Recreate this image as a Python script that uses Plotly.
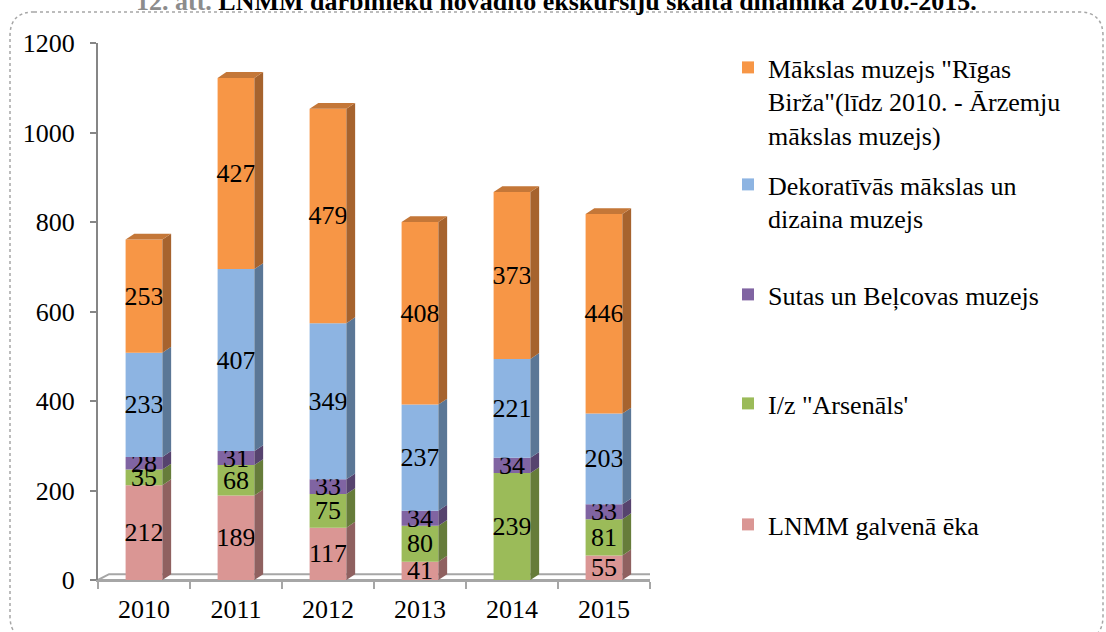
import plotly.graph_objects as go

years = ["2010", "2011", "2012", "2013", "2014", "2015"]
lnmm = [212, 189, 117, 41, 0, 55]
arsenals = [35, 68, 75, 80, 239, 81]
sutas = [28, 31, 33, 34, 34, 33]
dekor = [233, 407, 349, 237, 221, 203]
maksla = [253, 427, 479, 408, 373, 446]

names = [
    "LNMM galvenā ēka",
    "I/z \"Arsenāls'",
    "Sutas un Beļcovas muzejs",
    "Dekoratīvās mākslas un<br>dizaina muzejs",
    "Mākslas muzejs \"Rīgas<br>Birža\"(līdz 2010. - Ārzemju<br>mākslas muzejs)",
]
values = [lnmm, arsenals, sutas, dekor, maksla]
front_colors = ["#DA9694", "#9BBB59", "#8064A2", "#8DB4E2", "#F79646"]
side_colors = ["#8F6160", "#667C3A", "#56436E", "#5B7796", "#A6632E"]
top_color = "#C47738"

FONT = "Liberation Serif, Times New Roman, serif"
W = 1106
H = 632
ML, MR, MT, MB = 98, 456, 43, 52
PW = W - ML - MR
PH = H - MT - MB

BAR_W = 0.4
DX = 0.095   # depth offset in category units
DY = 13      # depth offset in value units


def px_x(px):
    return (px - ML) / PW


def px_y(py):
    return (H - MB - py) / PH


xs = list(range(len(years)))
fig = go.Figure()

legend_tops = [501, 380, 271, 161, 44]
legend_ids = ["legend5", "legend4", "legend3", "legend2", "legend"]

bases = [0] * len(years)
for k, (nm, vals, fc, sc) in enumerate(zip(names, values, front_colors, side_colors)):
    fig.add_trace(go.Bar(
        x=xs, y=vals, base=bases[:], width=BAR_W, name=nm,
        marker=dict(color=fc, line=dict(width=0)),
        text=[str(v) if v else "" for v in vals],
        textposition="inside", insidetextanchor="middle", textangle=0,
        textfont=dict(family=FONT, size=26, color="black"),
        legend=legend_ids[k], hoverinfo="skip",
    ))
    sx, sy = [], []
    for i, v in enumerate(vals):
        if v <= 0:
            continue
        b = bases[i]
        t = b + v
        r = i + BAR_W / 2
        sx += [r, r + DX, r + DX, r, r, None]
        sy += [b, b + DY, t + DY, t, b, None]
    fig.add_trace(go.Scatter(
        x=sx, y=sy, mode="lines", fill="toself", fillcolor=sc,
        line=dict(width=0, color=sc), showlegend=False, hoverinfo="skip",
    ))
    bases = [bases[i] + vals[i] for i in range(len(years))]

# top faces of stacks
tx, ty = [], []
for i, tot in enumerate(bases):
    l = i - BAR_W / 2
    r = i + BAR_W / 2
    tx += [l, l + DX, r + DX, r, l, None]
    ty += [tot, tot + DY, tot + DY, tot, tot, None]
fig.add_trace(go.Scatter(
    x=tx, y=ty, mode="lines", fill="toself", fillcolor=top_color,
    line=dict(width=0, color=top_color), showlegend=False, hoverinfo="skip",
))

# floor
FDX = 0.12
FDY = 13
fig.add_shape(type="path", xref="x", yref="y", layer="below",
              path=f"M -0.5,0 L 5.5,0 L {5.5 + FDX},{FDY} L {-0.5 + FDX},{FDY} Z",
              line=dict(color="#A6A6A6", width=2), fillcolor="rgba(0,0,0,0)")

# dotted rounded border
x0, x1 = px_x(10), px_x(1103)
y0, y1 = px_y(640), px_y(12)
rx = 24 / PW
ry = 24 / PH
border = (f"M {x0 + rx},{y1} L {x1 - rx},{y1} Q {x1},{y1} {x1},{y1 - ry} "
          f"L {x1},{y0 + ry} Q {x1},{y0} {x1 - rx},{y0} L {x0 + rx},{y0} "
          f"Q {x0},{y0} {x0},{y0 + ry} L {x0},{y1 - ry} Q {x0},{y1} {x0 + rx},{y1} Z")
fig.add_shape(type="path", xref="paper", yref="paper", path=border,
              line=dict(color="#A6A6A6", width=1.5, dash="dot"))

# title (cut off at the top, as in the reference)
fig.add_annotation(
    xref="paper", yref="paper", x=px_x(556), y=px_y(18), xanchor="center", yanchor="bottom",
    text="<b><span style='color:#8C8C8C'>12. att.</span> LNMM darbinieku novadīto ekskursiju skaita dinamika 2010.-2015.</b>",
    showarrow=False, font=dict(family=FONT, size=26, color="black"),
)

legend_common = dict(
    xanchor="left", yanchor="top", x=px_x(728), valign="top",
    font=dict(family=FONT, size=26, color="black"),
    bgcolor="rgba(0,0,0,0)", borderwidth=0, itemwidth=30,
)
legend_layout = {}
for lid, top in zip(legend_ids, legend_tops):
    legend_layout[lid] = dict(legend_common, y=px_y(top))

fig.update_layout(
    width=W, height=H, autosize=False,
    margin=dict(l=ML, r=MR, t=MT, b=MB, pad=0, autoexpand=False),
    paper_bgcolor="white", plot_bgcolor="white",
    barmode="overlay", showlegend=True,
    font=dict(family=FONT, size=26, color="black"),
    uniformtext=dict(minsize=26, mode="show"),
    xaxis=dict(
        range=[-0.5, 5.5], tickmode="array", tickvals=xs, ticktext=years,
        ticks="", showline=True, linecolor="#A6A6A6", linewidth=2,
        showgrid=False, zeroline=False, automargin=False,
        tickfont=dict(family=FONT, size=26, color="black"),
        ticklabelstandoff=5,
        minor=dict(tickmode="array", tickvals=[i - 0.5 for i in range(len(years) + 1)],
                   ticks="outside", ticklen=7, tickcolor="#A6A6A6", tickwidth=2, showgrid=False),
    ),
    yaxis=dict(
        range=[0, 1200], tickmode="linear", tick0=0, dtick=200,
        ticks="outside", ticklen=6, tickcolor="#868686", tickwidth=2,
        showline=True, linecolor="#868686", linewidth=2,
        showgrid=False, zeroline=False, automargin=False,
        tickfont=dict(family=FONT, size=26, color="black"),
        ticklabelstandoff=10,
    ),
    **legend_layout,
)

fig.write_html("out.html", config={"displayModeBar": False},
               post_script="document.body.style.margin='0px';")
